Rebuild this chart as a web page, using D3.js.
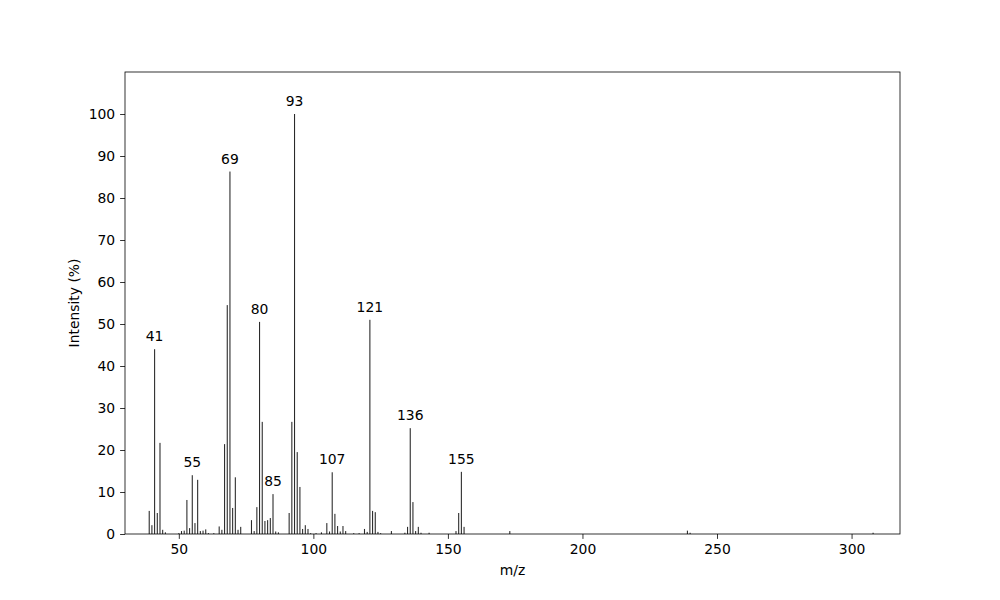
<!DOCTYPE html>
<html>
<head>
<meta charset="utf-8">
<script src="https://cdn.jsdelivr.net/npm/d3@7"></script>
<style>
  body { margin: 0; background: #fff; }
  svg { font-family: "DejaVu Sans", sans-serif; }
</style>
</head>
<body>
<svg id="chart" width="1000" height="600"></svg>
<script>
// peaks
var mz = [39,40,41,42,43,44,45,50,51,52,53,54,55,56,57,58,59,60,61,63,65,66,67,68,69,70,71,72,73,
  77,78,79,80,81,82,83,84,85,86,87,91,92,93,94,95,96,97,98,99,101,103,105,106,107,108,109,110,111,112,
  115,117,119,120,121,122,123,124,125,129,134,135,136,137,138,139,140,143,153,154,155,156,173,239,240,308];
var intensity = [5.5,2.1,44.0,5.0,21.7,1.0,0.4,0.2,0.7,0.8,8.1,1.4,14.0,2.6,12.9,0.7,0.8,1.1,0.2,0.2,1.8,1.0,21.4,54.5,86.3,6.2,13.5,1.0,1.7,
  3.3,0.7,6.4,50.5,26.7,3.1,3.3,3.8,9.5,0.6,0.4,5.0,26.7,100,19.5,11.2,1.2,2.1,1.2,0.2,0.2,0.4,2.6,0.6,14.7,4.8,1.9,0.6,1.9,0.7,
  0.2,0.2,1.2,0.5,51.0,5.5,5.2,0.5,0.2,0.7,0.3,1.7,25.2,7.6,0.7,1.7,0.3,0.3,0.7,5.0,14.8,1.7,0.7,0.8,0.3,0.3];
var labelled = [41,55,69,80,85,93,107,121,136,155];
var xTicks = [50,100,150,200,250,300];
var yTicks = [0,10,20,30,40,50,60,70,80,90,100];

var peaks = mz.map(function(m, i){ return {mz: m, y: intensity[i]}; });

var margin = {top: 72, right: 100, bottom: 66, left: 125};
var width = 1000 - margin.left - margin.right,
    height = 600 - margin.top - margin.bottom;

var svg = d3.select('#chart');
var g = svg.append('g').attr('transform', `translate(${margin.left},${margin.top})`);

var x = d3.scaleLinear().domain([30, 318]).range([0, width]);
var y = d3.scaleLinear().domain([0, 110]).range([height, 0]);

var barW = 0.4;

g.selectAll('rect.peak')
  .data(peaks)
  .enter()
  .append('rect')
  .attr('class', 'peak')
  .attr('x', function(d){ return x(d.mz - barW/2); })
  .attr('width', function(d){ return x(d.mz + barW/2) - x(d.mz - barW/2); })
  .attr('y', function(d){ return y(d.y); })
  .attr('height', function(d){ return height - y(d.y); })
  .attr('fill', '#2a2a2a');

g.selectAll('text.lbl')
  .data(peaks.filter(function(d){ return labelled.indexOf(d.mz) >= 0; }))
  .enter()
  .append('text')
  .attr('class', 'lbl')
  .attr('x', function(d){ return x(d.mz); })
  .attr('y', function(d){ return y(d.y + 1.9); })
  .attr('text-anchor', 'middle')
  .attr('font-size', '13.9px')
  .text(function(d){ return d.mz; });

var xAxis = d3.axisBottom(x).tickValues(xTicks).tickSizeInner(4.9).tickSizeOuter(0).tickPadding(4.9);
var yAxis = d3.axisLeft(y).tickValues(yTicks).tickSizeInner(4.9).tickSizeOuter(0).tickPadding(4.9);

var gx = g.append('g').attr('transform', `translate(0,${height})`).call(xAxis);
var gy = g.append('g').call(yAxis);
[gx, gy].forEach(function(a){
  a.selectAll('text').attr('font-size', '13.9px').attr('fill', '#000').attr('font-family', '"DejaVu Sans", sans-serif');
  a.selectAll('line').attr('stroke', '#000').attr('stroke-width', 0.8);
  a.select('.domain').remove();
});

// frame
g.append('rect')
  .attr('width', width).attr('height', height)
  .attr('fill', 'none').attr('stroke', '#000').attr('stroke-width', 0.8);

svg.append('text')
  .attr('x', margin.left + width/2).attr('y', 575)
  .attr('text-anchor', 'middle').attr('font-size', '13.9px')
  .text('m/z');

svg.append('text')
  .attr('transform', `translate(79,${margin.top + height/2}) rotate(-90)`)
  .attr('text-anchor', 'middle').attr('font-size', '13.9px')
  .text('Intensity (%)');
</script>
</body>
</html>
